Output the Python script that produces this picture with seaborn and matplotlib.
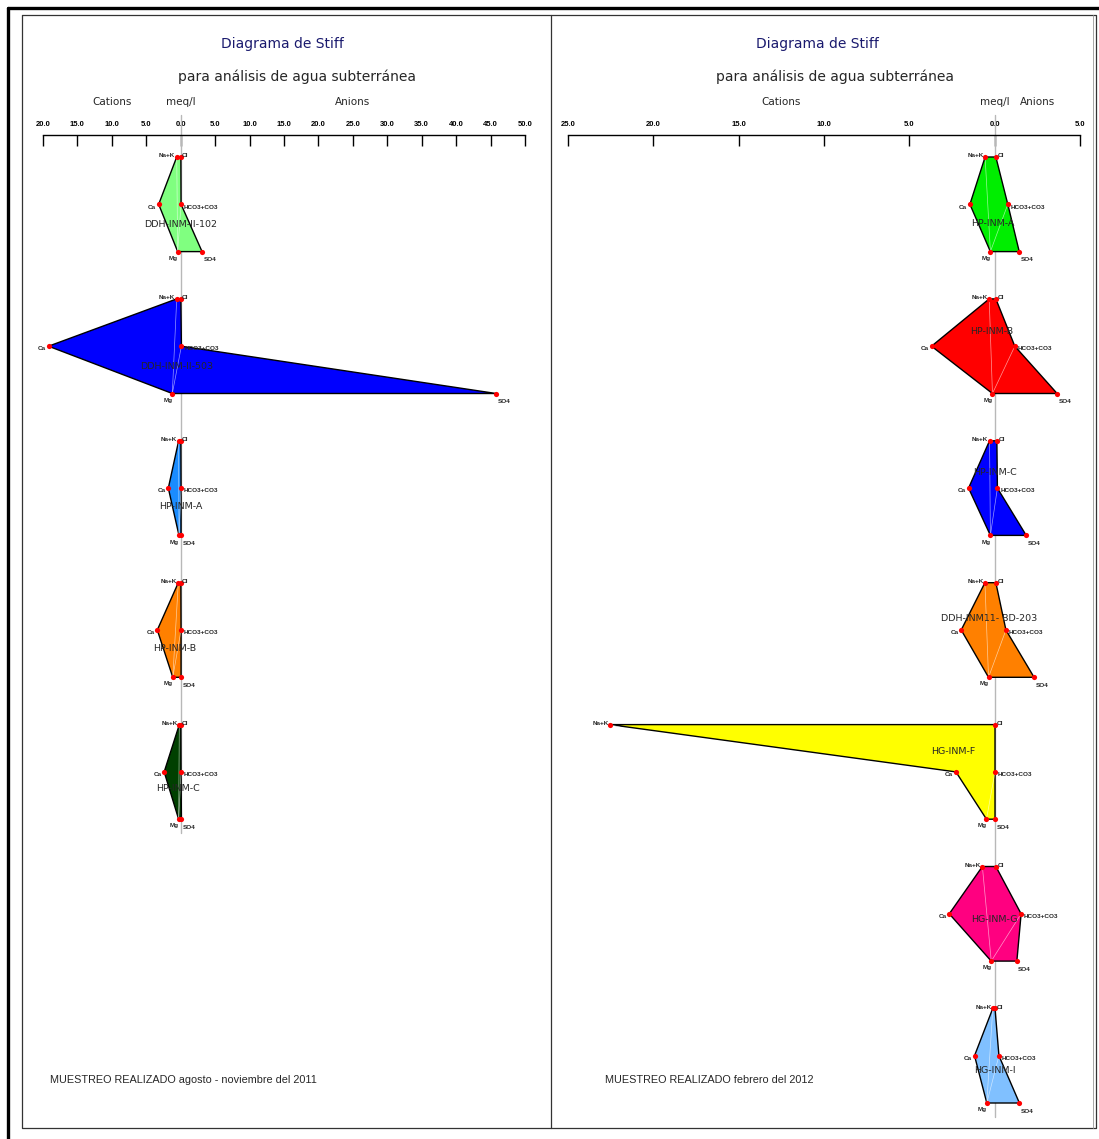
import pandas as pd
import seaborn as sns
import matplotlib.pyplot as plt
from matplotlib import font_manager
from matplotlib.lines import Line2D

# --- datos (meq/l) ---
left_names = ["DDH-INM-II-102", "DDH-INM-II-503", "HP-INM-A", "HP-INM-B", "HP-INM-C"]
left_nak = [0.58, 0.58, 0.30, 0.35, 0.20]
left_ca = [3.2, 19.2, 1.8, 3.4, 2.4]
left_mg = [0.44, 1.22, 0.25, 1.15, 0.30]
left_cl = [0.02, 0.02, 0.02, 0.02, 0.02]
left_hco3 = [0.05, 0.1, 0.05, 0.05, 0.05]
left_so4 = [3.1, 45.8, 0.05, 0.05, 0.1]
left_colors = ["#80ff80", "#0000ff", "#1a8cff", "#ff8000", "#004000"]

right_names = ["HP-INM-A", "HP-INM-B", "HP-INM-C", "DDH-INM11- BD-203",
               "HG-INM-F", "HG-INM-G", "HG-INM-I"]
right_nak = [0.56, 0.32, 0.30, 0.57, 22.55, 0.72, 0.11]
right_ca = [1.45, 3.70, 1.53, 1.96, 2.27, 2.66, 1.18]
right_mg = [0.25, 0.13, 0.25, 0.36, 0.48, 0.20, 0.46]
right_cl = [0.07, 0.07, 0.13, 0.07, 0.02, 0.07, 0.02]
right_hco3 = [0.77, 1.18, 0.16, 0.66, 0.02, 1.55, 0.25]
right_so4 = [1.44, 3.66, 1.85, 2.31, 0.02, 1.30, 1.45]
right_colors = ["#00ee00", "#ff0000", "#0000ff", "#ff8000",
                "#ffff00", "#ff0080", "#80c0ff"]

left_ticks = [-20, -15, -10, -5, 0, 5, 10, 15, 20, 25, 30, 35, 40, 45, 50]
right_ticks = [-25, -20, -15, -10, -5, 0, 5]

# posicion de la etiqueta de cada muestra (x en meq/l, y en filas desde Na+K)
left_lab = [(0.0, 1.42), (-0.6, 1.43), (0.0, 1.39), (-0.9, 1.39), (-0.4, 1.36)]
right_lab = [(-0.1, 1.40), (-0.2, 0.68), (0.0, 0.67), (-0.3, 0.75),
             (-2.44, 0.56), (0.0, 1.13), (0.0, 1.31)]

W, H = 1099, 1139
ROW0, ROWH = 157, 47.3

sns.set_style("white")
fonts = {f.name for f in font_manager.fontManager.ttflist}
NARROW = "Liberation Sans Narrow" if "Liberation Sans Narrow" in fonts else "Liberation Sans"
plt.rcParams["font.family"] = ["DejaVu Sans"]


def row(py):
    return (py - ROW0) / ROWH


def fx(px):
    return px / W


def fy(py):
    return 1 - py / H


def stiff_panel(ax, names, nak, ca, mg, cl, hco3, so4, colors, ticks, labs):
    pts = []
    for i, name in enumerate(names):
        r = 3 * i
        xs = [-nak[i], -ca[i], -mg[i], so4[i], hco3[i], cl[i]]
        ys = [r, r + 1, r + 2, r + 2, r + 1, r]
        ax.fill(xs, ys, facecolor=colors[i], edgecolor="black", lw=1, zorder=2)
        tags = ["Na+K", "Ca", "Mg", "SO4", "HCO3+CO3", "Cl"]
        for x, y, t in zip(xs, ys, tags):
            pts.append({"x": x, "y": y, "ion": t})
        # trazos blancos internos del relleno
        ax.plot([xs[0], xs[2]], [ys[0], ys[2]], color="white", lw=0.5, alpha=0.6,
                zorder=2.5)
        ax.plot([xs[4], xs[2]], [ys[4], ys[2]], color="white", lw=0.5, alpha=0.6,
                zorder=2.5)
        dx, dy = labs[i]
        ax.text(dx, r + dy, name, ha="center", va="center", fontsize=6.8,
                zorder=5)

    df = pd.DataFrame(pts)
    sns.scatterplot(data=df, x="x", y="y", color="red", s=14, linewidth=0,
                    ax=ax, zorder=4, legend=False)

    offs = {"Na+K": (-1, -1, "right", "bottom"), "Cl": (1, -1, "left", "bottom"),
            "Ca": (-2, -2, "right", "center"), "HCO3+CO3": (2, -2, "left", "center"),
            "Mg": (0, -3, "right", "top"), "SO4": (1, -4, "left", "top")}
    for _, p in df.iterrows():
        ox, oy, ha, va = offs[p["ion"]]
        ax.annotate(p["ion"], (p["x"], p["y"]), textcoords="offset points",
                    xytext=(ox, oy), ha=ha, va=va, fontsize=4.6,
                    fontweight="bold", family=NARROW, zorder=5)

    # eje cero
    last = 3 * len(names) - 1
    ax.plot([0, 0], [row(115), last + 0.3], color="#b8b8b8", lw=1, zorder=1,
            clip_on=False)

    ax.set_xlim(ticks[0], ticks[-1])
    ax.set_ylim(row(1128), row(135))
    ax.set_xticks(ticks)
    ax.set_xticklabels([f"{abs(t):.1f}" for t in ticks], fontsize=5.5,
                       fontweight="bold", family=NARROW)
    ax.xaxis.tick_top()
    ax.tick_params(axis="x", direction="in", length=8, width=1, pad=5,
                   colors="black")
    ax.set_yticks([])
    ax.set_xlabel("")
    ax.set_ylabel("")
    for s in ["left", "right", "bottom"]:
        ax.spines[s].set_visible(False)
    ax.spines["top"].set_linewidth(1)
    ax.spines["top"].set_color("black")
    ax.patch.set_alpha(0)

    ya = row(102)
    ax.text(ticks[0] / 2, ya, "Cations", ha="center", va="center", fontsize=7.5,
            clip_on=False)
    ax.text(0, ya, "meq/l", ha="center", va="center", fontsize=7.5, clip_on=False)
    ax.text(ticks[-1] / 2, ya, "Anions", ha="center", va="center", fontsize=7.5,
            clip_on=False)


fig = plt.figure(figsize=(W / 100, H / 100), dpi=100)

axl = fig.add_axes([fx(43), fy(1128), fx(525) - fx(43), fy(135) - fy(1128)])
stiff_panel(axl, left_names, left_nak, left_ca, left_mg, left_cl, left_hco3,
            left_so4, left_colors, left_ticks, left_lab)

axr = fig.add_axes([fx(568), fy(1128), fx(1080) - fx(568), fy(135) - fy(1128)])
stiff_panel(axr, right_names, right_nak, right_ca, right_mg, right_cl, right_hco3,
            right_so4, right_colors, right_ticks, right_lab)

# titulos
for cx1, cx2 in [(282, 297), (817, 835)]:
    fig.text(fx(cx1), fy(44), "Diagrama de Stiff", ha="center", va="center",
             fontsize=10, color="#1a1a6e")
    fig.text(fx(cx2), fy(77), "para análisis de agua subterránea", ha="center",
             va="center", fontsize=10)

fig.text(fx(50), fy(1080), "MUESTREO REALIZADO agosto - noviembre del 2011",
         ha="left", va="center", fontsize=7.8, family=NARROW)
fig.text(fx(605), fy(1080), "MUESTREO REALIZADO febrero del 2012",
         ha="left", va="center", fontsize=7.8, family=NARROW)

# marcos
frame = [
    ([8, 8], [8, 1139], 2.4, "black"),
    ([8, 1099], [8, 8], 2.4, "black"),
    ([22, 1096, 1096, 22, 22], [15, 15, 1128, 1128, 15], 0.9, "#333333"),
    ([1093, 1093], [15, 1128], 0.6, "#999999"),
    ([551, 551], [15, 1128], 0.9, "#333333"),
]
for xs, ys, lw, c in frame:
    fig.add_artist(Line2D([fx(v) for v in xs], [fy(v) for v in ys], lw=lw,
                          color=c, transform=fig.transFigure))

fig.savefig("out.png", dpi=100)
